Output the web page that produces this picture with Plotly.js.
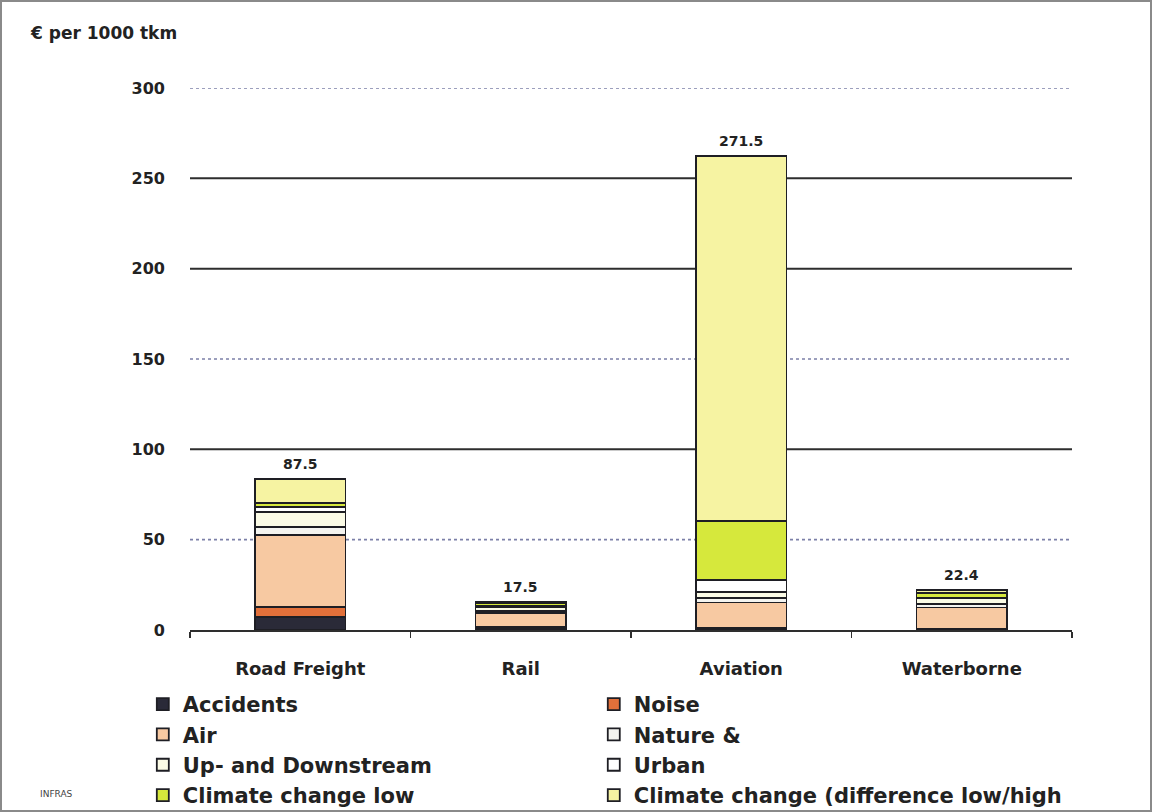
<!DOCTYPE html>
<html>
<head>
<meta charset="utf-8">
<script src="https://cdn.plot.ly/plotly-3.0.1.min.js"></script>
<style>
  html, body { margin: 0; padding: 0; background: #fff; }
  #chart { width: 1152px; height: 812px; }
  #frame { position: absolute; left: 0; top: 0; width: 1152px; height: 812px; box-sizing: border-box; border: 2px solid #8a8a8a; pointer-events: none; }
</style>
</head>
<body>
<div id="chart"></div>
<div id="frame"></div>
<script>
// ---- data ----
var categories = ['Road Freight', 'Rail', 'Aviation', 'Waterborne'];
var accidents   = [7.2, 0.8, 0.5, 0.3];
var noise       = [5.5, 1.0, 0.7, 0.2];
var air         = [40.0, 7.5, 14.0, 12.0];
var nature      = [4.4, 1.2, 2.5, 2.0];
var upDown      = [8.3, 2.0, 3.5, 3.0];
var urban       = [2.5, 1.0, 6.5, 0.5];
var climateLow  = [2.5, 1.2, 32.6, 2.5];
var climateDiff = [13.3, 0.8, 202.0, 1.5];
var totalLabels = ['87.5', '17.5', '271.5', '22.4'];
var seriesNames = ['Accidents', 'Noise', 'Air', 'Nature &', 'Up- and Downstream', 'Urban', 'Climate change low', 'Climate change (difference low/high'];
var yTicks = [0, 50, 100, 150, 200, 250, 300];
var solidGrid = [100, 200, 250];
var dottedGrid = [50, 150, 300];

var seriesValues = [accidents, noise, air, nature, upDown, urban, climateLow, climateDiff];
var seriesColors = ['#2a2a38', '#e2703a', '#f7c9a2', '#f4f4f0', '#fbfbe6', '#ffffff', '#d6e83c', '#f6f3a2'];

var FONT = 'DejaVu Sans, Verdana, sans-serif';
var traces = seriesValues.map(function (vals, i) {
  return {
    type: 'bar', name: seriesNames[i], x: categories, y: vals,
    width: 0.41,
    legend: (i % 2 === 0) ? 'legend' : 'legend2',
    marker: { color: seriesColors[i], line: { color: '#1e1e24', width: 1.8 } },
    hoverinfo: 'name+y'
  };
});

var sums = categories.map(function (c, j) {
  return seriesValues.reduce(function (s, arr) { return s + arr[j]; }, 0);
});

var shapes = [];
solidGrid.forEach(function (v) {
  shapes.push({ type: 'line', xref: 'paper', x0: 0, x1: 1, yref: 'y', y0: v, y1: v, layer: 'below',
    line: { color: '#2e2e2e', width: 2 } });
});
dottedGrid.forEach(function (v) {
  shapes.push({ type: 'line', xref: 'paper', x0: 0, x1: 1, yref: 'y', y0: v, y1: v, layer: 'below',
    line: { color: '#7c80a8', width: 1.6, dash: 'dot' } });
});

var annotations = categories.map(function (c, j) {
  return { text: totalLabels[j], x: c, y: sums[j], xref: 'x', yref: 'y',
    xanchor: 'center', yanchor: 'bottom', yshift: 5, showarrow: false,
    font: { family: FONT, size: 14, color: '#222', weight: 'bold' } };
});
annotations.push(
  { text: '€ per 1000 tkm', xref: 'paper', yref: 'paper', x: -0.184, y: 1.102,
    xanchor: 'left', yanchor: 'middle', showarrow: false,
    font: { family: FONT, size: 17, color: '#222', weight: 'bold' } },
  { text: 'INFRAS', xref: 'paper', yref: 'paper', x: -0.172, y: -0.302,
    xanchor: 'left', yanchor: 'middle', showarrow: false,
    font: { family: FONT, size: 9, color: '#444' } }
);

var legendCommon = {
  orientation: 'v', traceorder: 'normal', yanchor: 'top', xanchor: 'left',
  itemwidth: 30, tracegroupgap: 0,
  font: { family: FONT, size: 21, color: '#222', weight: 'bold' },
  bgcolor: 'rgba(0,0,0,0)'
};

var layout = {
  width: 1152, height: 812,
  paper_bgcolor: '#ffffff', plot_bgcolor: '#ffffff',
  margin: { l: 190, r: 80, t: 88, b: 182, autoexpand: false },
  barmode: 'stack',
  showlegend: true,
  font: { family: FONT, color: '#222' },
  xaxis: {
    type: 'category', range: [-0.5, 3.5],
    showline: true, linecolor: '#2e2e2e', linewidth: 2,
    ticks: 'outside', tickson: 'boundaries', ticklen: 6, tickcolor: '#2e2e2e', tickwidth: 1.5,
    ticklabelstandoff: 21,
    tickfont: { family: FONT, size: 18, color: '#222', weight: 'bold' },
    showgrid: false, zeroline: false, fixedrange: true
  },
  yaxis: {
    range: [0, 300], tickvals: yTicks,
    showgrid: false, zeroline: false, showline: false, ticks: '',
    ticklabelstandoff: 24,
    tickfont: { family: FONT, size: 16, color: '#222', weight: 'bold' },
    fixedrange: true
  },
  legend: Object.assign({}, legendCommon, { x: -0.0535, y: -0.0996 }),
  legend2: Object.assign({}, legendCommon, { x: 0.4578, y: -0.0996 }),
  shapes: shapes,
  annotations: annotations
};

Plotly.newPlot('chart', traces, layout, { staticPlot: true, displayModeBar: false });
</script>
</body>
</html>
